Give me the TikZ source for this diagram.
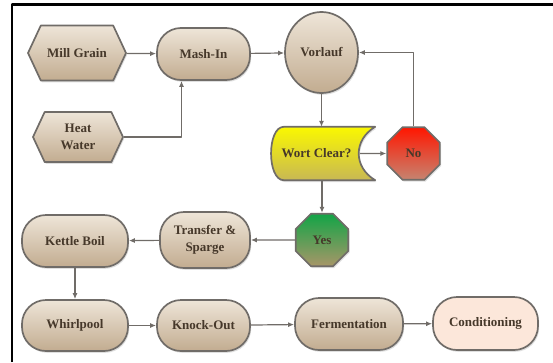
\documentclass[tikz,border=0pt]{standalone}
\usepackage{fontspec}
\setmainfont{Liberation Serif}
\usetikzlibrary{shapes.geometric,shapes.symbols,shadows,arrows.meta}
\definecolor{tantop}{RGB}{238,229,216}
\definecolor{tanbot}{RGB}{194,172,144}
\definecolor{linegray}{RGB}{112,108,104}
\definecolor{txtbrown}{RGB}{70,56,42}
\definecolor{wortyel}{RGB}{250,248,0}
\definecolor{wortbot}{RGB}{200,184,84}
\definecolor{nored}{RGB}{255,22,0}
\definecolor{nobot}{RGB}{198,132,112}
\definecolor{yesgreen}{RGB}{18,164,70}
\definecolor{yesbot}{RGB}{168,150,104}
\definecolor{condfill}{RGB}{252,231,218}
\tikzset{
  base/.style={draw=linegray, line width=1.7pt, text=txtbrown, align=center,
    font=\fontsize{13}{17.5}\selectfont\bfseries, inner sep=0pt,
    drop shadow={opacity=0.25, shadow xshift=1.2pt, shadow yshift=-1.8pt}},
  tan/.style={top color=tantop, bottom color=tanbot},
  stepbox/.style={base, tan, rectangle, rounded corners=24pt},
  hexa/.style={base, tan, signal, signal to=west and east, signal pointer angle=130},
  stopsign/.style={base, regular polygon, regular polygon sides=8, minimum size=57pt},
  flow/.style={draw=linegray, line width=1.2pt, -{Latex[length=6pt,width=5pt]}}
}
\begin{document}
\begin{tikzpicture}[x=1pt, y=-1pt, line join=round]
    \useasboundingbox (0,0) rectangle (553,362);
    % frame
    \draw[line width=2.3pt] (12,362) -- (12,4.5) -- (553,4.5);
    % mash
    \node[hexa, minimum width=98pt, minimum height=55pt] (mill) at (77,53) {Mill Grain};
    \node[hexa, minimum width=90pt, minimum height=50pt] (heat) at (78,137) {Heat\\Water};
    \node[stepbox, minimum width=93pt, minimum height=52pt] (mash) at (203.5,54) {Mash-In};
    \node[base, tan, ellipse, minimum width=73pt, minimum height=81pt] (vorlauf) at (321.5,52.5) {Vorlauf};
    % wort check
    \node[minimum width=103pt, minimum height=53pt, inner sep=0pt] (wort) at (323.5,153.5) {};
    \draw[draw=linegray, line width=1.7pt, top color=wortyel, bottom color=wortbot,
      drop shadow={opacity=0.25, shadow xshift=1.2pt, shadow yshift=-1.8pt}]
      ([xshift=12pt]wort.north west) -- (wort.north east)
      .. controls ([xshift=-22pt,yshift=-13pt]wort.north east) and ([xshift=-22pt,yshift=13pt]wort.south east) .. (wort.south east)
      -- ([xshift=12pt]wort.south west)
      .. controls ([xshift=-5pt]wort.south west) and ([xshift=-5pt]wort.north west) .. ([xshift=12pt]wort.north west) -- cycle;
    \node[text=txtbrown, font=\fontsize{13}{17.5}\selectfont\bfseries] (wortlbl) at ([xshift=-7pt]wort.center) {Wort Clear?};
    \node[stopsign, top color=nored, bottom color=nobot] (no) at (413.5,153.5) {No};
    \node[stopsign, top color=yesgreen, bottom color=yesbot] (yes) at (322,240) {Yes};
    % boil and cellar
    \node[stepbox, minimum width=90pt, minimum height=56pt] (transfer) at (205,240) {Transfer \&\\Sparge};
    \node[stepbox, minimum width=106pt, minimum height=52pt] (kettle) at (75,241) {Kettle Boil};
    \node[stepbox, minimum width=106pt, minimum height=51pt] (whirl) at (75,325.5) {Whirlpool};
    \node[stepbox, minimum width=93pt, minimum height=51pt] (knock) at (203.5,325.5) {Knock-Out};
    \node[stepbox, minimum width=108pt, minimum height=52pt] (ferm) at (349,324) {Fermentation};
    \node[stepbox, fill=condfill, top color=condfill, bottom color=condfill, minimum width=105pt, minimum height=53pt] (cond) at (485.5,323.5) {Conditioning};
    % connectors
    \draw[flow] (mill) -- (mash);
    \draw[flow] (heat.east) -| ([xshift=-22pt]mash.south);
    \draw[flow] (mash) -- (vorlauf);
    \draw[flow] (vorlauf.south) -- (vorlauf.south |- wort.north);
    \draw[flow] ([xshift=-15pt]wort.east) -- (no);
    \draw[flow] (no.north) |- (vorlauf.east);
    \draw[flow] (yes.north |- wort.south) -- (yes.north);
    \draw[flow] (yes) -- (transfer);
    \draw[flow] (transfer) -- (kettle);
    \draw[flow] (kettle) -- (whirl);
    \draw[flow] (whirl) -- (knock);
    \draw[flow] (knock) -- (ferm);
    \draw[flow] (ferm) -- (cond);
\end{tikzpicture}
\end{document}
